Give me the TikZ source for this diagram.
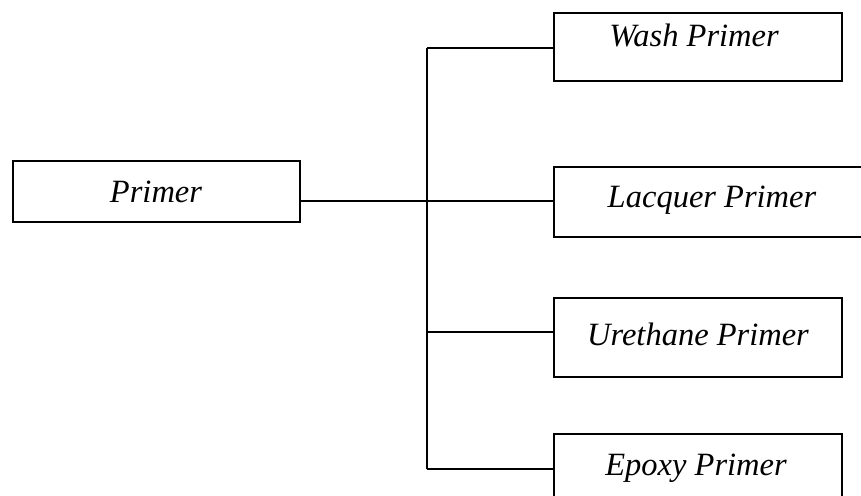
\documentclass[tikz,border=0pt]{standalone}
\usepackage{fontspec}
\setmainfont{Liberation Serif}
\begin{document}
\begin{tikzpicture}[x=1pt,y=-1pt,
  box/.style={draw, line width=1.2pt, rectangle, inner sep=0pt},
  lbl/.style={anchor=base, inner sep=0pt, font=\fontsize{32.5}{38}\selectfont\itshape},
  link/.style={line width=1.2pt}]
  \useasboundingbox (0,0) rectangle (861,495);
  \clip (0,0) rectangle (861,495);
  \fill[white] (0,0) rectangle (861,495);

  % boxes
  \node[box, minimum width=287, minimum height=61] (primer) at (156.5,191.5) {};
  \node[box, minimum width=288, minimum height=68] (wash) at (698,47) {};
  \node[box, minimum width=330, minimum height=70] (lacquer) at (719,202) {};
  \node[box, minimum width=288, minimum height=79] (urethane) at (698,337.5) {};
  \node[box, minimum width=288, minimum height=70] (epoxy) at (698,469) {};

  % labels
  \node[lbl] (tprimer) at (156,202) {Primer};
  \node[lbl] (twash) at (694,47) {Wash Primer};
  \node[lbl] (tlacquer) at (712,207) {Lacquer Primer};
  \node[lbl] (turethane) at (698,345) {Urethane Primer};
  \node[lbl] (tepoxy) at (696,475) {Epoxy Primer};

  % connectors
  \coordinate (pout) at ([yshift=-9.5pt]primer.east);
  \coordinate (jtop) at (427,48);
  \coordinate (jure) at (427,332);
  \coordinate (jbot) at (427,469);
  \draw[link] (jtop) -- (jbot);
  \draw[link] (pout) -- (pout -| lacquer.west);
  \draw[link] (jtop) -- (jtop -| wash.west);
  \draw[link] (jure) -- (jure -| urethane.west);
  \draw[link] (jbot) -- (epoxy.west);
\end{tikzpicture}
\end{document}
